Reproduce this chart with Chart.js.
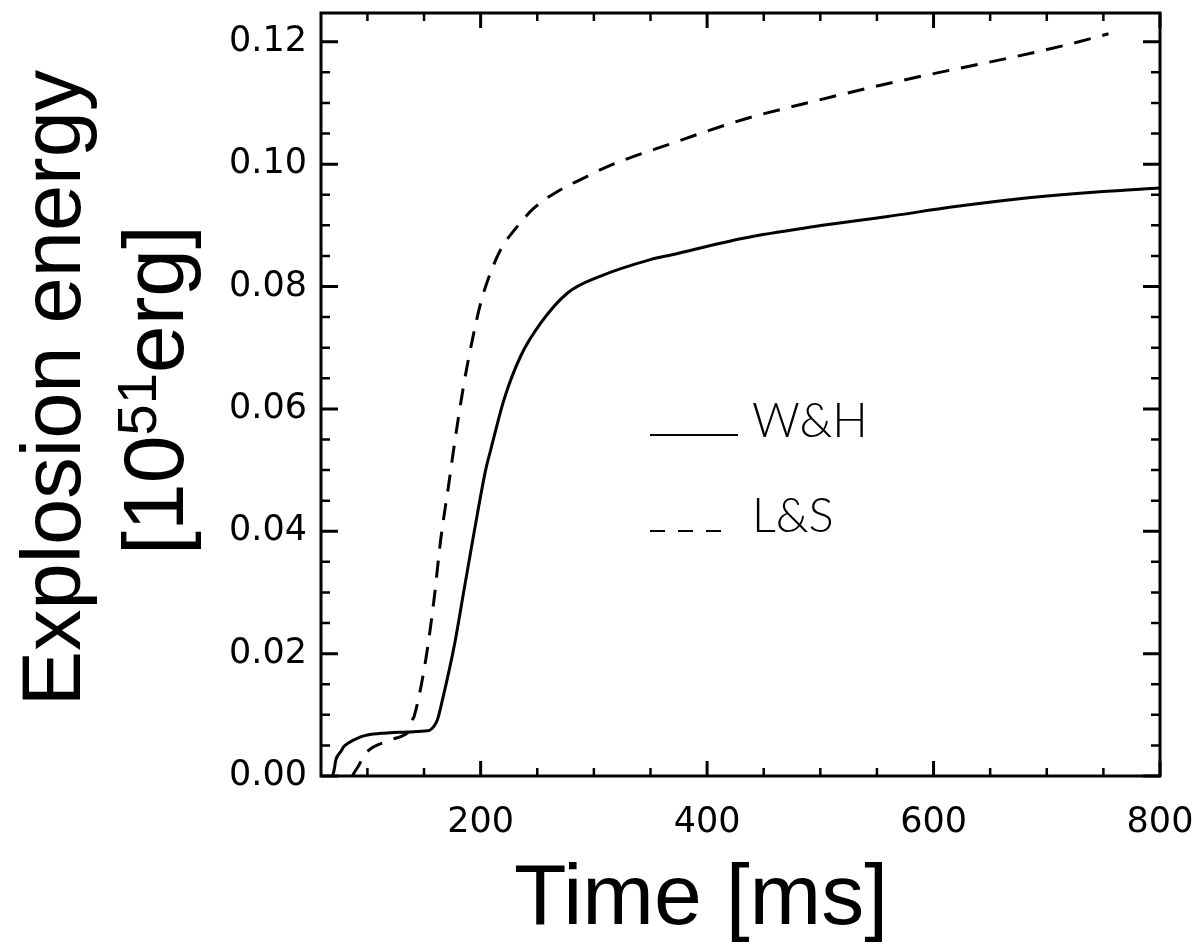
<!DOCTYPE html>
<html>
<head>
<meta charset="utf-8">
<script src="https://cdn.jsdelivr.net/npm/chart.js@4.4.1/dist/chart.umd.min.js"></script>
<style>
html,body{margin:0;padding:0;background:#ffffff;}
#wrap{width:1200px;height:950px;}
</style>
</head>
<body>
<div id="wrap"><canvas id="c" width="1200" height="950"></canvas></div>
<script>
// ---- data ----
const seriesLabels = ['W&H', 'L&S'];

const whTime   = [69.2, 70.6, 72.1, 76.5, 79.1, 82.4, 94, 100, 114.7, 135.3, 153, 155.3, 161.8, 166.2, 176.5, 185.3, 194.1, 204.4, 208.9, 220.6, 235.3, 253, 276.5, 306, 350, 369, 432, 495, 558, 621, 684, 747, 800];
const whEnergy = [0, 0.0010, 0.0026, 0.0040, 0.0048, 0.0053, 0.0064, 0.0067, 0.0070, 0.0072, 0.0074, 0.0075, 0.0092, 0.0124, 0.0211, 0.0304, 0.0397, 0.0500, 0.0533, 0.0615, 0.0686, 0.0740, 0.0789, 0.0817, 0.0844, 0.0852, 0.0879, 0.0898, 0.0914, 0.0931, 0.0945, 0.0955, 0.0961];

const lsTime   = [86.8, 88.2, 92.6, 97, 120.6, 132.4, 137, 139.8, 141.2, 151.5, 158.8, 164.7, 172, 176.5, 185.3, 192.7, 200, 207.4, 217.6, 231, 247, 267.6, 294, 312, 369, 432, 495, 558, 621, 663, 717.7, 754.5];
const lsEnergy = [0, 0.0005, 0.0018, 0.0034, 0.0059, 0.0067, 0.0075, 0.0092, 0.0097, 0.0190, 0.0288, 0.0386, 0.0479, 0.0538, 0.0642, 0.0713, 0.0773, 0.0816, 0.0860, 0.0895, 0.0928, 0.0955, 0.0980, 0.0996, 0.1034, 0.1073, 0.1103, 0.1131, 0.1156, 0.1172, 0.1195, 0.1213];

const xTickValues = [200, 400, 600, 800];
const yTickValues = [0, 0.02, 0.04, 0.06, 0.08, 0.10, 0.12];
const xMinorValues = [100, 150, 200, 250, 300, 350, 400, 450, 500, 550, 600, 650, 700, 750, 800];
const yMinorValues = [0, 0.005, 0.01, 0.015, 0.02, 0.025, 0.03, 0.035, 0.04, 0.045, 0.05, 0.055, 0.06, 0.065, 0.07, 0.075, 0.08, 0.085, 0.09, 0.095, 0.10, 0.105, 0.11, 0.115, 0.12];

const xTitle = 'Time [ms]';
const yTitleLine1 = 'Explosion energy';
const yTitleParts = ['[10', '51', 'erg]'];

// ---- build chart ----
const toPoints = (xs, ys) => xs.map((x, i) => ({x: x, y: ys[i]}));

const framePlugin = {
  id: 'frame',
  afterDatasetsDraw(chart) {
    const {ctx, chartArea: a, scales: {x, y}} = chart;
    ctx.save();
    ctx.strokeStyle = '#000';
    ctx.lineCap = 'butt';
    xMinorValues.forEach(v => {
      if (v < x.min || v > x.max) return;
      const px = x.getPixelForValue(v);
      const major = xTickValues.includes(v);
      const len = major ? 15 : 8;
      ctx.lineWidth = major ? 3 : 2.5;
      ctx.beginPath();
      ctx.moveTo(px, a.bottom); ctx.lineTo(px, a.bottom - len);
      ctx.moveTo(px, a.top); ctx.lineTo(px, a.top + len);
      ctx.stroke();
    });
    yMinorValues.forEach(v => {
      if (v < y.min || v > y.max) return;
      const py = y.getPixelForValue(v);
      const major = yTickValues.some(t => Math.abs(t - v) < 1e-9);
      const len = major ? 17 : 9;
      ctx.lineWidth = major ? 3 : 2.5;
      ctx.beginPath();
      ctx.moveTo(a.left, py); ctx.lineTo(a.left + len, py);
      ctx.moveTo(a.right, py); ctx.lineTo(a.right - len, py);
      ctx.stroke();
    });
    ctx.lineWidth = 3;
    ctx.strokeRect(a.left, a.top, a.right - a.left, a.bottom - a.top);

    // legend (inside plot)
    const lx0 = a.left + 329, lx1 = a.left + 417, tx = a.left + 431;
    ctx.fillStyle = '#000';
    ctx.font = '300 47px Lato, "DejaVu Sans", sans-serif';
    ctx.textAlign = 'left';
    ctx.textBaseline = 'alphabetic';
    ctx.lineWidth = 2;
    ctx.beginPath(); ctx.moveTo(lx0, 435); ctx.lineTo(lx1, 435); ctx.stroke();
    ctx.fillText(seriesLabels[0], tx, 437);
    ctx.setLineDash([15, 13]);
    ctx.beginPath(); ctx.moveTo(lx0, 531); ctx.lineTo(lx0 + 73, 531); ctx.stroke();
    ctx.setLineDash([]);
    ctx.fillText(seriesLabels[1], tx, 532);
    ctx.restore();
  },
  afterDraw(chart) {
    const {ctx} = chart;
    ctx.save();
    ctx.fillStyle = '#000';
    // x title
    ctx.font = '86px "Liberation Sans", Arial, sans-serif';
    ctx.textAlign = 'center';
    ctx.textBaseline = 'alphabetic';
    ctx.fillText(xTitle, 701, 924);
    // y title line 1
    ctx.save();
    ctx.font = '83px "Liberation Sans", Arial, sans-serif';
    ctx.translate(80, 388);
    ctx.rotate(-Math.PI / 2);
    ctx.fillText(yTitleLine1, 0, 0);
    ctx.restore();
    // y title line 2 with superscript
    ctx.save();
    ctx.translate(183, 390);
    ctx.rotate(-Math.PI / 2);
    ctx.textAlign = 'left';
    const big = '86px "Liberation Sans", Arial, sans-serif';
    const small = '56px "Liberation Sans", Arial, sans-serif';
    ctx.font = big; const w0 = ctx.measureText(yTitleParts[0]).width;
    ctx.font = small; const w1 = ctx.measureText(yTitleParts[1]).width;
    ctx.font = big; const w2 = ctx.measureText(yTitleParts[2]).width;
    let cx = -(w0 + w1 + w2) / 2;
    ctx.font = big; ctx.fillText(yTitleParts[0], cx, 0); cx += w0;
    ctx.font = small; ctx.fillText(yTitleParts[1], cx, -27); cx += w1;
    ctx.font = big; ctx.fillText(yTitleParts[2], cx, 0);
    ctx.restore();
    ctx.restore();
  }
};

const tickFont = {family: '"DejaVu Sans", sans-serif', size: 35};

new Chart(document.getElementById('c'), {
  type: 'line',
  data: {
    datasets: [
      {
        label: seriesLabels[0],
        data: toPoints(whTime, whEnergy),
        borderColor: '#000',
        borderWidth: 3,
        pointRadius: 0,
        fill: false,
        cubicInterpolationMode: 'monotone'
      },
      {
        label: seriesLabels[1],
        data: toPoints(lsTime, lsEnergy),
        borderColor: '#000',
        borderWidth: 3,
        borderDash: [17, 12],
        pointRadius: 0,
        fill: false,
        cubicInterpolationMode: 'monotone'
      }
    ]
  },
  options: {
    responsive: false,
    animation: false,
    devicePixelRatio: 1,
    layout: {padding: {top: 13, right: 40, left: 0, bottom: 0}},
    plugins: {legend: {display: false}, tooltip: {enabled: false}, title: {display: false}},
    scales: {
      x: {
        type: 'linear',
        min: 59,
        max: 800,
        afterBuildTicks: s => { s.ticks = xTickValues.map(v => ({value: v})); },
        afterFit: s => { s.height = 174; s.paddingLeft = 0; s.paddingRight = 0; },
        grid: {display: false, drawTicks: false},
        border: {display: false},
        ticks: {font: tickFont, color: '#000', padding: 26, maxRotation: 0, autoSkip: false, callback: v => String(v)}
      },
      y: {
        type: 'linear',
        min: 0,
        max: 0.1247,
        afterBuildTicks: s => { s.ticks = yTickValues.map(v => ({value: v})); },
        afterFit: s => { s.width = 321; s.paddingTop = 0; s.paddingBottom = 0; },
        grid: {display: false, drawTicks: false},
        border: {display: false},
        ticks: {font: tickFont, color: '#000', padding: 14, autoSkip: false, callback: v => v.toFixed(2)}
      }
    }
  },
  plugins: [framePlugin]
});
</script>
</body>
</html>
